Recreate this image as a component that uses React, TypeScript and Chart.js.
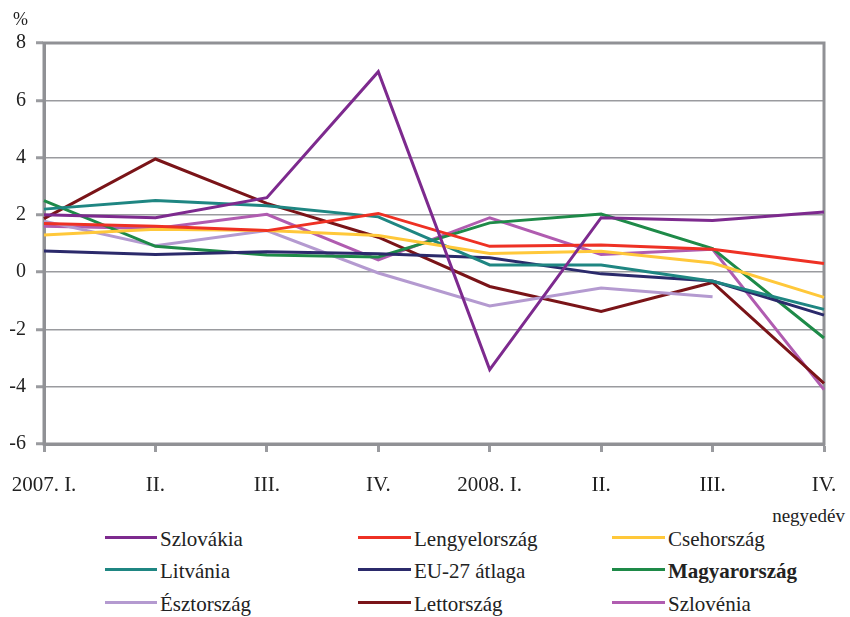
import React, { useEffect, useRef } from "react";
import { Chart, registerables } from "chart.js";

Chart.register(...registerables);

const categories = ["2007. I.", "II.", "III.", "IV.", "2008. I.", "II.", "III.", "IV."];

const szlovakia = [2.0, 1.9, 2.6, 7.0, -3.4, 1.9, 1.8, 2.1];
const lengyelorszag = [1.7, 1.6, 1.45, 2.05, 0.9, 0.95, 0.8, 0.3];
const csehorszag = [1.3, 1.5, 1.45, 1.28, 0.65, 0.73, 0.32, -0.88];
const litvania = [2.2, 2.5, 2.32, 1.93, 0.25, 0.25, -0.32, -1.3];
const eu27 = [0.74, 0.62, 0.71, 0.64, 0.5, -0.06, -0.31, -1.5];
const magyarorszag = [2.5, 0.9, 0.6, 0.53, 1.72, 2.03, 0.82, -2.3];
const esztorszag = [1.78, 0.92, 1.45, -0.03, -1.18, -0.55, -0.86, null];
const lettorszag = [1.87, 3.95, 2.4, 1.22, -0.5, -1.37, -0.36, -3.88];
const szlovenia = [1.6, 1.52, 2.02, 0.43, 1.9, 0.62, 0.8, -4.1];

const seriesNames = [
  "Szlovákia", "Lengyelország", "Csehország",
  "Litvánia", "EU-27 átlaga", "Magyarország",
  "Észtország", "Lettország", "Szlovénia",
];
const seriesData = [
  szlovakia, lengyelorszag, csehorszag,
  litvania, eu27, magyarorszag,
  esztorszag, lettorszag, szlovenia,
];
const seriesColors = [
  "#7D2A8E", "#EE3124", "#FFC83A",
  "#1F8682", "#2B2A6B", "#1E8A48",
  "#B49AD0", "#7A1418", "#B05CB0",
];

const FONT = "'Liberation Serif', 'DejaVu Serif', serif";
const GRID = "#9A9B9F";

const borderPlugin = {
  id: "plotBorder",
  beforeDatasetsDraw(chart: any) {
    const { ctx, chartArea } = chart;
    ctx.save();
    ctx.strokeStyle = "#909195";
    ctx.lineWidth = 3;
    ctx.strokeRect(chartArea.left, chartArea.top, chartArea.right - chartArea.left, chartArea.bottom - chartArea.top);
    ctx.restore();
  },
};

export default function App() {
  const ref = useRef<HTMLCanvasElement>(null);

  useEffect(() => {
    document.body.style.margin = "0";
    const chart = new Chart(ref.current!, {
      type: "line",
      data: {
        labels: categories,
        datasets: seriesNames.map((n, i) => ({
          label: n,
          data: seriesData[i],
          borderColor: seriesColors[i],
          backgroundColor: seriesColors[i],
          borderWidth: 3,
          pointRadius: 0,
          tension: 0,
          spanGaps: false,
        })),
      },
      options: {
        animation: false,
        responsive: false,
        layout: { padding: { top: 43, right: 26, left: 0, bottom: 0 } },
        plugins: { legend: { display: false }, tooltip: { enabled: false } },
        scales: {
          x: {
            type: "category",
            offset: false,
            afterFit(scale: any) {
              scale.height = 56;
              scale.paddingLeft = 0;
              scale.paddingRight = 0;
            },
            grid: { drawOnChartArea: false, drawTicks: true, tickLength: 8, tickWidth: 3, color: GRID },
            border: { display: true, width: 3, color: "#909195" },
            ticks: { color: "#222", font: { family: FONT, size: 21 }, padding: 21, maxRotation: 0, autoSkip: false },
          },
          y: {
            min: -6,
            max: 8,
            afterFit(scale: any) {
              scale.width = 44;
              scale.paddingTop = 0;
              scale.paddingBottom = 0;
            },
            ticks: { stepSize: 2, color: "#222", font: { family: FONT, size: 20 }, padding: 10 },
            grid: { color: GRID, lineWidth: 1.5, tickLength: 8, tickWidth: 3, tickColor: GRID },
            border: { display: true, width: 3, color: "#909195" },
          },
        },
      },
      plugins: [borderPlugin],
    });
    return () => chart.destroy();
  }, []);

  const colX = [105, 358, 612];
  const textX = [160, 414, 668];
  const rowY = [537, 569, 602];

  return (
    <div style={{ position: "fixed", left: 0, top: 0, width: 850, height: 617, background: "#fff", fontFamily: FONT, color: "#222", overflow: "hidden" }}>
      <canvas ref={ref} width={850} height={500} style={{ position: "absolute", left: 0, top: 0 }} />
      <div style={{ position: "absolute", left: 13, top: 9, fontSize: 18 }}>%</div>
      <div style={{ position: "absolute", right: 5, top: 505, fontSize: 19 }}>negyedév</div>
      {seriesNames.map((n, i) => {
        const c = i % 3;
        const r = Math.floor(i / 3);
        return (
          <React.Fragment key={n}>
            <div style={{ position: "absolute", left: colX[c], top: rowY[r] - 1.5, width: textX[c] - colX[c] - 3, height: 3, background: seriesColors[i] }} />
            <div style={{ position: "absolute", left: textX[c], top: rowY[r] - 10, fontSize: 21, lineHeight: "24px", whiteSpace: "nowrap", fontWeight: n === "Magyarország" ? "bold" : "normal" }}>{n}</div>
          </React.Fragment>
        );
      })}
    </div>
  );
}
